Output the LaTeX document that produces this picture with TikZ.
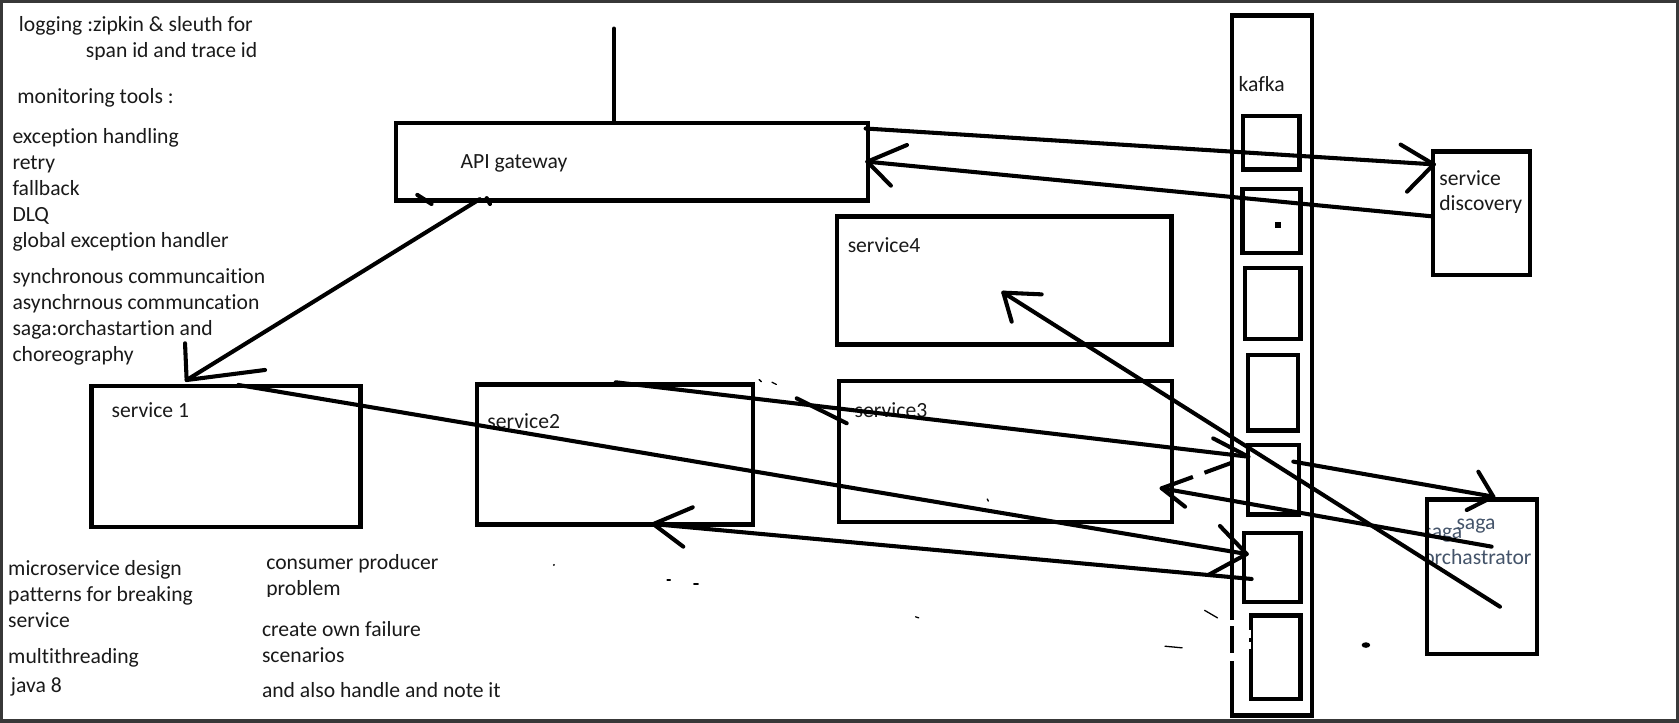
\documentclass[tikz,border=0pt]{standalone}
\usepackage{fontspec}
\setmainfont{Carlito}[Ligatures={NoCommon}]
\definecolor{framegray}{HTML}{383838}
\definecolor{slate}{HTML}{44546A}
\definecolor{ink}{HTML}{1A1A1A}
\begin{document}
\begin{tikzpicture}[x=1pt,y=-1pt,
  box/.style={draw=black, line width=4.1pt, inner sep=0pt, anchor=north west},
  wire/.style={draw=black, line width=3.8pt, line cap=round, line join=round},
  note/.style={anchor=base west, inner sep=0pt, text=ink, font=\fontsize{20.2}{24}\selectfont},
  speck/.style={draw=black, line width=1.2pt, line cap=round},
]
% canvas and dark frame
\fill[framegray] (0,0) rectangle (1568,675);
\fill[white] (3,3) rectangle (1565,671.5);
\useasboundingbox (0,0) rectangle (1568,675);

% ---------- notes, left column ----------
\node[note] (nLog)   at (17.5,29.6) {logging :zipkin \& sleuth for};
\begin{scope}
  \clip (60,30) rectangle (300,55.6);
  \node[note] (nSpan) at (80,53.5) {span id and trace id};
\end{scope}
\node[note] (nMon)   at (16,96.5)  {monitoring tools :};
\node[note] (nExc)   at (11.5,133.9) {exception handling};
\node[note] (nRetry) at (11.5,158.2) {retry};
\node[note] (nFall)  at (11.5,182.5) {fallback};
\node[note] (nDlq)   at (11.5,206.8) {DLQ};
\node[note] (nGlob)  at (11.5,231.1) {global exception handler};
\node[note] (nSync)  at (11.5,264.6) {synchronous communcaition};
\node[note] (nAsync) at (11.5,288.9) {asynchrnous communcation};
\node[note] (nSaga)  at (11.5,313.2) {saga:orchastartion and};
\node[note] (nChor)  at (11.5,337.5) {choreography};

% ---------- notes, bottom ----------
\node[note] (nMicro) at (7.5,537)   {microservice design};
\node[note] (nPat)   at (7.5,561.3) {patterns for breaking};
\node[note] (nServ)  at (7.5,585.6) {service};
\node[note] (nMulti) at (7.5,620)   {multithreading};
\node[note] (nJava)  at (10,647)    {java 8};
\node[note] (nCons)  at (248.5,531.7) {consumer producer};
\begin{scope}
  \clip (240,540) rectangle (400,557.4);
  \node[note] (nProb) at (248.5,555.8) {problem};
\end{scope}
\node[note] (nFail)  at (244.5,594.6) {create own failure};
\node[note] (nScen)  at (244.5,618.4) {scenarios};
\node[note] (nHand)  at (244.5,651.2) {and also handle and note it};

% ---------- box labels ----------
\node[note] (lApi)  at (430,157.5) {API gateway};
\node[note] (lS1)   at (104,389.5) {service 1};
\node[note] (lS2)   at (455,400)   {service2};
\node[note] (lS3)   at (798,389.5) {service3};
\node[note] (lS4)   at (791.5,235.5) {service4};
\node[note] (lKaf)  at (1156.5,85)  {kafka};
\node[note] (lSd1)  at (1344,173)   {service};
\begin{scope}
  \clip (1340,180) rectangle (1424,198.8);
  \node[note] (lSd2) at (1344,197) {discovery};
\end{scope}
\node[note, text=slate] (lSagaA) at (1360,494.5) {saga};
\begin{scope}
  \clip (1331,470) rectangle (1433,540);
  \node[note, text=slate] (lSagaB) at (1329,503) {saga};
  \node[note, text=slate] (lOrch)  at (1329,527) {orchastrator};
\end{scope}

% ---------- boxes ----------
\node[box, minimum width=440.4pt, minimum height=72.5pt]  (api)  at (368,112.7) {};
\node[box, minimum width=251.1pt, minimum height=131.7pt] (s1)   at (83.4,358.6) {};
\node[box, minimum width=257.9pt, minimum height=130.8pt] (s2)   at (443.5,357) {};
\node[box, minimum width=310.9pt, minimum height=131.6pt] (s3)   at (781.3,354) {};
\node[box, minimum width=312.5pt, minimum height=119.5pt] (s4)   at (779.5,200.2) {};
\node[box, minimum width=74.3pt,  minimum height=653.7pt] (kafka) at (1148.7,12.5) {};
\node[box, minimum width=52.6pt, minimum height=49.8pt] (k1) at (1159,106.5) {};
\node[box, minimum width=54.2pt, minimum height=59.8pt] (k2) at (1158.4,174.3) {};
\node[box, minimum width=52pt,   minimum height=66.3pt] (k3) at (1160.6,248.1) {};
\node[box, minimum width=46.4pt, minimum height=70.6pt] (k4) at (1163.6,329.4) {};
\node[box, minimum width=47.6pt, minimum height=64.6pt] (k5) at (1163.4,413.7) {};
\node[box, minimum width=52.9pt, minimum height=64.7pt] (k6) at (1159.6,495.6) {};
\node[box, minimum width=46.6pt, minimum height=77.8pt] (k7) at (1166,572.8) {};
\node[box, minimum width=90.5pt,  minimum height=115.2pt] (sd)   at (1336.4,139.5) {};
\node[box, minimum width=102.3pt, minimum height=144.1pt] (saga) at (1330.8,464.5) {};
\fill (1190.5,207.5) rectangle +(5.4,5.4);

% worn spots on the kafka column and the last partition
\fill[white] (1145.5,579) rectangle (1152.5,585);
\fill[white] (1145.5,610) rectangle (1152,617);
\fill[white] (1164,588) rectangle (1168,596);
\fill[white] (1164,600) rectangle (1168,606);

% ---------- connector end points ----------
\coordinate (gwFeed)  at (573.4,26.5);
\coordinate (apiOut)  at (808.4,120);
\coordinate (sdTip)   at (1339,153.5);
\coordinate (sdOut)   at (1337,202);
\coordinate (apiTip)  at (810,151);
\coordinate (apiLow)  at (448,186);
\coordinate (s1Tip)   at (174.3,354.9);
\coordinate (s1Out)   at (222.6,359.5);
\coordinate (k6Tip)   at (1164.3,517.4);
\coordinate (k6Out)   at (1168.9,540.7);
\coordinate (s2Tip)   at (610.1,489.4);
\coordinate (s2Out)   at (575,357);
\coordinate (k5Tip)   at (1165.8,426.5);
\coordinate (s3Tip)   at (1084.9,456);
\coordinate (sagaOut) at (1393,510.5);
\coordinate (k5Out)   at (1207.8,431.1);
\coordinate (sagaTip) at (1394.6,463.8);
\coordinate (sagaLow) at (1400.8,566.6);
\coordinate (s4Tip)   at (937,273.3);

% ---------- connectors ----------
% feed into the gateway from above
\draw[wire, line width=3.5pt] (gwFeed) -- (gwFeed |- api.north);
% gateway <-> service discovery
\draw[wire] (apiOut) -- (sdTip);
\draw[wire] (sdTip) ++(-31,-18.5) -- (sdTip) -- ++(-25,25.5);
\draw[wire] (sdOut) -- (apiTip);
\draw[wire] (apiTip) ++(37,-15.6) -- (apiTip) -- ++(22,22.4);
% gateway -> service 1
\draw[wire] (apiLow) -- (s1Tip);
\draw[wire] (s1Tip) ++(-1.5,-34.3) -- (s1Tip) -- ++(73.2,-9.4);
\draw[wire] (389.7,182) -- (403,190.5);
\draw[wire] (454.5,185) -- (457.6,190.5);
% service 1 -> kafka
\draw[wire] (s1Out) -- (k6Tip);
\draw[wire] (k6Tip) ++(-25,-26.2) -- (k6Tip) -- ++(-35.9,19.6);
% kafka -> service2
\draw[wire] (k6Out) -- (s2Tip);
\draw[wire] (s2Tip) ++(36.8,-15.6) -- (s2Tip) -- ++(28,21.1);
% service2 -> kafka
\draw[wire] (s2Out) -- (k5Tip);
\draw[wire] (k5Tip) -- ++(-32.8,-17.1);
\draw[wire] (744,372) -- (790.7,395.3);
\draw[wire, line cap=butt, dash pattern=on 31pt off 11.5pt on 28.4pt off 40pt] (s3Tip) -- (k5Tip);
% saga orchestrator -> service3
\draw[wire] (sagaOut) -- (s3Tip);
\draw[wire] (s3Tip) -- ++(21.8,17.2);
% kafka -> saga orchestrator
\draw[wire] (k5Out) -- (sagaTip);
\draw[wire] (sagaTip) ++(-14,-23.3) -- (sagaTip) -- ++(-24.9,12.5);
% saga orchestrator -> service4
\draw[wire] (sagaLow) -- (s4Tip);
\draw[wire] (s4Tip) ++(35.8,1.6) -- (s4Tip) -- ++(7.8,27.1);

% stray marks
\fill (1275.6,602.4) ellipse (4 and 2.6);
\draw[speck] (1125,570) -- (1137,577);
\draw[speck] (1088,603.5) -- (1104,605);
\draw[speck] (709,354.5) -- (711,356.5);
\draw[speck] (721,357) -- (725,359);
\fill (517.3,527.6) circle (1);
\draw[speck] (623,541.6) -- (626,541.6);
\draw[speck] (648,545.4) -- (652,545.4);
\draw[speck] (855,576) -- (858,577);
\draw[speck] (922,466) -- (923,468);
\end{tikzpicture}
\end{document}
